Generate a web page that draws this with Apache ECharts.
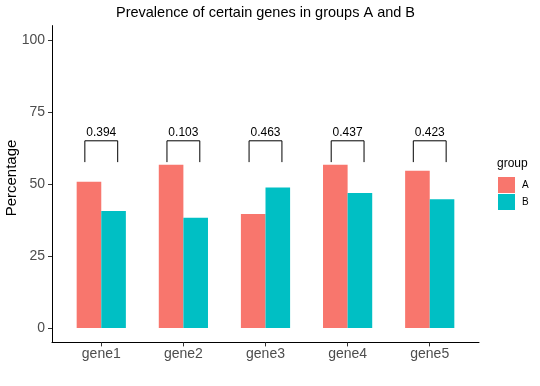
<!DOCTYPE html>
<html>
<head>
<meta charset="utf-8">
<script src="https://cdn.jsdelivr.net/npm/echarts@6/dist/echarts.min.js"></script>
<style>html,body{margin:0;padding:0;background:#fff}#c{width:540px;height:386px}</style>
</head>
<body>
<div id="c"></div>
<script>
var categories = ['gene1', 'gene2', 'gene3', 'gene4', 'gene5'];
var groupA = [50.8, 56.7, 39.6, 56.7, 54.6];
var groupB = [40.6, 38.3, 48.8, 46.9, 44.7];
var pValues = [0.394, 0.103, 0.463, 0.437, 0.423];
var yTicks = [0, 25, 50, 75, 100];

var BR_TOP = 65, BR_BOT = 57.6, BR_HALF = 0.2;
var font = 'Liberation Sans, Arial, Helvetica, sans-serif';
var chart = echarts.init(document.getElementById('c'));
var xPos = categories.map(function (c, i) { return i + 1; });

chart.setOption({
  animation: false,
  backgroundColor: '#fff',
  grid: { left: 52, right: 61, top: 25.6, bottom: 43.6, containLabel: false, outerBoundsMode: 'none' },
  legend: {
    data: ['A', 'B'], orient: 'vertical', left: 498, top: 177, padding: 0,
    icon: 'rect', itemWidth: 17, itemHeight: 16, itemGap: 1,
    textStyle: { fontFamily: font, fontSize: 10, color: '#000', padding: [0, 0, 0, 2] }
  },
  graphic: [
    {
      type: 'text', x: 265.5, y: 12.5,
      style: { text: 'Prevalence of certain genes in groups A and B', fontFamily: font,
               fontSize: 14.5, fill: '#000', align: 'center', verticalAlign: 'middle' }
    },
    {
      type: 'text', x: 12, y: 178, rotation: Math.PI / 2,
      style: { text: 'Percentage', fontFamily: font, fontSize: 15, fill: '#000',
               align: 'center', verticalAlign: 'middle' }
    },
    {
      type: 'text', x: 497, y: 164,
      style: { text: 'group', fontFamily: font, fontSize: 12, fill: '#000',
               align: 'left', verticalAlign: 'middle' }
    }
  ],
  xAxis: {
    type: 'value', min: 0.4, max: 5.6,
    splitLine: { show: false },
    axisLine: { show: true, onZero: false, lineStyle: { color: '#000', width: 1 } },
    axisTick: { show: true, length: 4, customValues: xPos, lineStyle: { color: '#333' } },
    axisLabel: {
      customValues: xPos, margin: 5,
      fontFamily: font, fontSize: 14, color: '#4d4d4d',
      formatter: function (v) { return categories[Math.round(v) - 1] || ''; }
    }
  },
  yAxis: {
    type: 'value', min: -5, max: 105, interval: 5,
    splitLine: { show: false },
    axisLine: { show: true, onZero: false, lineStyle: { color: '#000', width: 1 } },
    axisTick: { show: true, length: 4, customValues: yTicks, lineStyle: { color: '#333' } },
    axisLabel: {
      customValues: yTicks, margin: 7,
      fontFamily: font, fontSize: 14, color: '#4d4d4d'
    }
  },
  series: [
    {
      name: 'A', type: 'bar', barWidth: 24.6, barGap: '0%',
      itemStyle: { color: '#F8766D' },
      data: groupA.map(function (v, i) { return [xPos[i], v]; })
    },
    {
      name: 'B', type: 'bar', barWidth: 24.6, barGap: '0%',
      itemStyle: { color: '#00BFC4' },
      data: groupB.map(function (v, i) { return [xPos[i], v]; })
    },
    {
      type: 'custom', silent: true,
      data: pValues.map(function (p, i) { return [xPos[i], p]; }),
      renderItem: function (params, api) {
        var x = api.value(0);
        var p = api.value(1);
        var lb = api.coord([x - BR_HALF, BR_BOT]);
        var lt = api.coord([x - BR_HALF, BR_TOP]);
        var rt = api.coord([x + BR_HALF, BR_TOP]);
        var rb = api.coord([x + BR_HALF, BR_BOT]);
        var c = api.coord([x, BR_TOP]);
        return {
          type: 'group',
          children: [
            { type: 'polyline', shape: { points: [lb, lt, rt, rb] },
              style: { stroke: '#000', lineWidth: 1, fill: null } },
            { type: 'text', x: c[0], y: c[1] - 2,
              style: { text: p.toFixed(3), fontFamily: font, fontSize: 12, fill: '#000',
                       align: 'center', verticalAlign: 'bottom' } }
          ]
        };
      }
    }
  ]
});
</script>
</body>
</html>
